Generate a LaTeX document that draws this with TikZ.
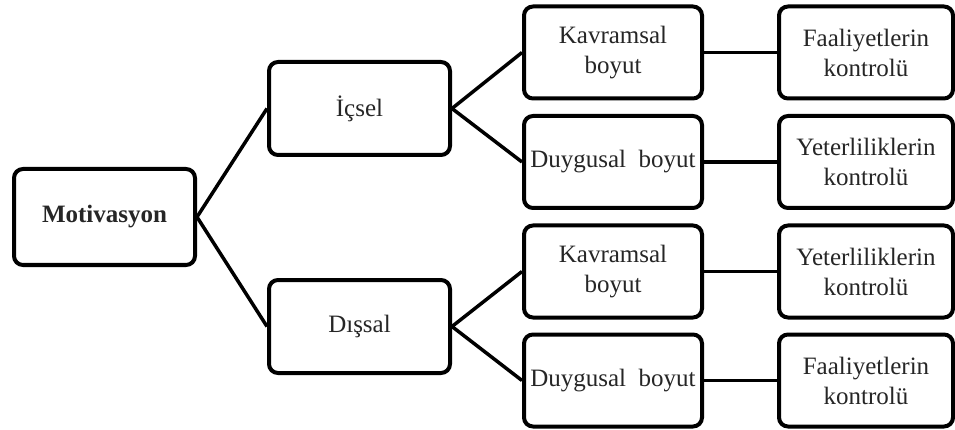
\documentclass[tikz,border=0pt]{standalone}
\usepackage{fontspec}
\setmainfont{Liberation Serif}
\begin{document}
\begin{tikzpicture}[x=1pt,y=-1pt,
  box/.style={draw=black,line width=4pt,rounded corners=9pt,fill=white,
    align=center,inner sep=0pt,text=black!85,font=\fontsize{25}{30}\selectfont},
  rootbox/.style={box,minimum width=181pt,minimum height=96pt,font=\fontsize{25}{30}\selectfont\bfseries},
  midbox/.style={box,minimum width=181pt,minimum height=93pt},
  dimbox/.style={box,minimum width=178pt,minimum height=92pt},
  ctrlbox/.style={box,minimum width=174pt,minimum height=92pt},
  link/.style={line width=3.5pt,black}]
\useasboundingbox (0,0) rectangle (955,430);

% root
\node[rootbox] (mot) at (104.5,217) {Motivasyon};

% motivation types
\node[midbox] (ic) at (359.5,108.5) {İçsel};
\node[midbox] (dis) at (359.5,326.5) {Dışsal};

% dimensions
\node[dimbox] (k1) at (613,52.5) {Kavramsal\\boyut};
\node[dimbox] (d1) at (613,162) {Duygusal\ \ boyut};
\node[dimbox] (k2) at (613,271.5) {Kavramsal\\boyut};
\node[dimbox] (d2) at (613,380.5) {Duygusal\ \ boyut};

% control targets
\node[ctrlbox] (f1) at (866,52.5) {Faaliyetlerin\\kontrolü};
\node[ctrlbox] (y1) at (866,162) {Yeterliliklerin\\kontrolü};
\node[ctrlbox] (y2) at (866,271.5) {Yeterliliklerin\\kontrolü};
\node[ctrlbox] (f2) at (866,380.5) {Faaliyetlerin\\kontrolü};

% connectors
\draw[link] (mot.east) -- (ic.west);
\draw[link] (mot.east) -- (dis.west);
\draw[link] (ic.east) -- (k1.west);
\draw[link] (ic.east) -- (d1.west);
\draw[link] (dis.east) -- (k2.west);
\draw[link] (dis.east) -- (d2.west);
\draw[link] (k1.east) -- (f1.west);
\draw[link] (d1.east) -- (y1.west);
\draw[link] (k2.east) -- (y2.west);
\draw[link] (d2.east) -- (f2.west);
\end{tikzpicture}
\end{document}
